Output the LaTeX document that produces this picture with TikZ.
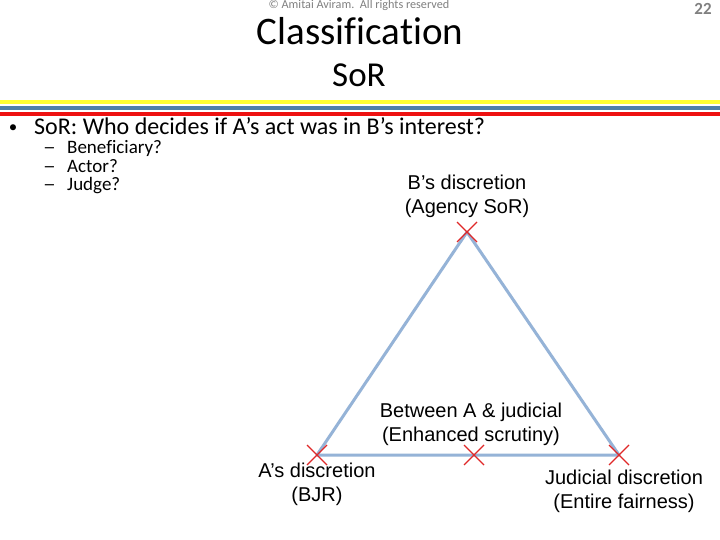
\documentclass[tikz,border=0pt]{standalone}
\usepackage{fontspec}
\usetikzlibrary{calc}
\setmainfont{Carlito}[Ligatures={NoCommon}]
\newfontfamily\arialf{Liberation Sans}
\definecolor{triblue}{HTML}{95B3D7}
\definecolor{xred}{HTML}{E02828}
\definecolor{stripey}{HTML}{FFFF33}
\definecolor{stripeb}{HTML}{5080A8}
\definecolor{striper}{HTML}{EE1111}
\tikzset{
  lbl/.style={font=\arialf\fontsize{20}{24}\selectfont, align=center, inner sep=0pt},
  xmark/.style={draw=xred, line width=1.3pt},
  tri/.style={draw=triblue, line width=3pt},
  sub/.style={font=\fontsize{19}{19}\selectfont, anchor=west, inner sep=0pt, text height=11pt, text depth=3pt}
}
\begin{document}
\begin{tikzpicture}[x=1pt,y=-1pt]
\useasboundingbox (0,0) rectangle (720,540);
\fill[white] (0,0) rectangle (720,540);
% stripes
\fill[stripey] (0,100) rectangle (720,104);
\fill[stripeb] (0,106) rectangle (720,110);
\fill[striper] (0,112) rectangle (720,116);
% header
\node[font=\fontsize{12.2}{12}\selectfont, text=gray, inner sep=0pt] (copy) at (359,5) {© Amitai Aviram.\ \ All rights reserved};
\node[font=\fontsize{39}{39}\selectfont, inner sep=0pt] (title) at (360,31) {Classification};
\node[font=\fontsize{35}{35}\selectfont, inner sep=0pt] (subtitle) at (359,75) {SoR};
\node[font=\bfseries\fontsize{17}{17}\selectfont, text=gray, inner sep=0pt] (pnum) at (703,9) {22};
% bullets
\node[font=\fontsize{17}{17}\selectfont, inner sep=0pt] (bul) at (13,129) {•};
\node[font=\fontsize{24}{24}\selectfont, anchor=west, inner sep=0pt, text height=15pt, text depth=4pt] (q) at (34,129) {SoR: Who decides if A’s act was in B’s interest?};
\node[sub] (d1) at (43,150) {\scalebox{1.35}[1]{–}};
\node[sub] (s1) at (67,150) {Beneficiary?};
\node[sub] (d2) at (43,168.5) {\scalebox{1.35}[1]{–}};
\node[sub] (s2) at (67,168.5) {Actor?};
\node[sub] (d3) at (43,187) {\scalebox{1.35}[1]{–}};
\node[sub] (s3) at (67,187) {Judge?};
% triangle
\coordinate (T) at (467,232);
\coordinate (L) at (317,455);
\coordinate (R) at (619,455);
\coordinate (M) at (474,455);
\draw[tri, line join=round] (T) -- (L) -- (R) -- cycle;
\foreach \p in {T,L,R,M}{
  \draw[xmark] ($(\p)+(-10,-10)$) -- ($(\p)+(10,10)$);
  \draw[xmark] ($(\p)+(-10,10)$) -- ($(\p)+(10,-10)$);
}
% labels
\node[lbl] (lt) at (467,196) {B’s discretion\\(Agency SoR)};
\node[lbl] (lm) at (471,424) {Between A \& judicial\\(Enhanced scrutiny)};
\node[lbl] (ll) at (317,484) {A’s discretion\\(BJR)};
\node[lbl] (lr) at (624,491) {Judicial discretion\\(Entire fairness)};
\end{tikzpicture}
\end{document}
